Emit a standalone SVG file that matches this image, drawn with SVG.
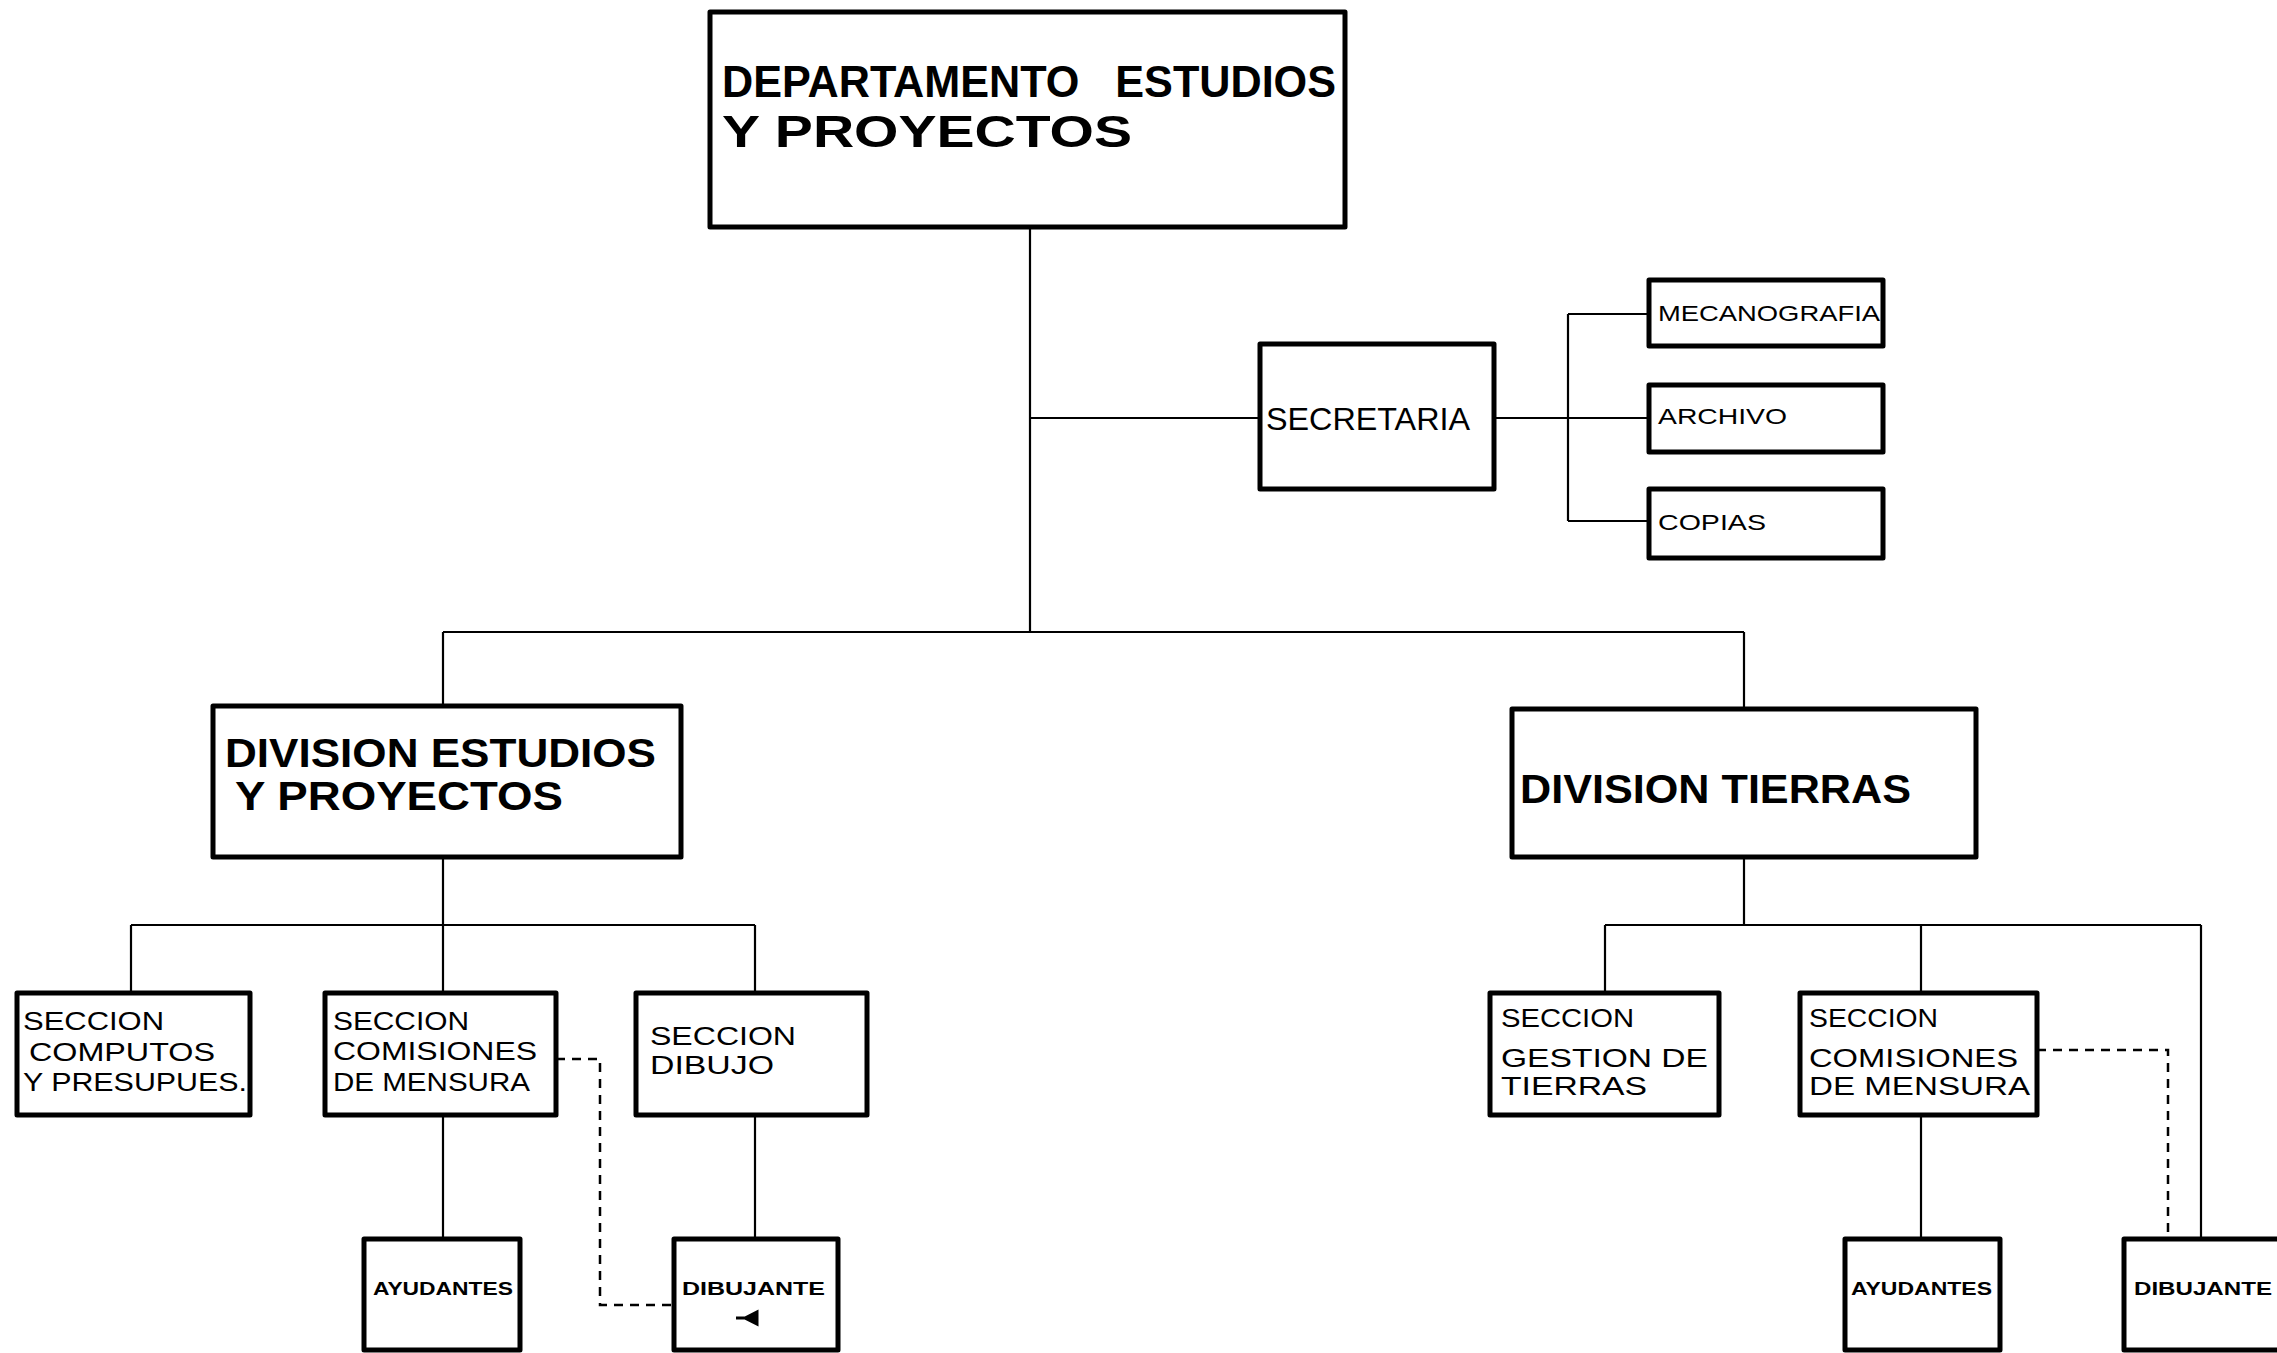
<svg xmlns="http://www.w3.org/2000/svg" width="2277" height="1353" viewBox="0 0 2277 1353">
<style>
.box{fill:#fff;stroke:#000;stroke-width:5;stroke-linejoin:round}
.ln{fill:none;stroke:#000;stroke-width:2.2}
.dash{fill:none;stroke:#000;stroke-width:2.5;stroke-dasharray:9 7}
text{font-family:"Liberation Sans","DejaVu Sans",Arial,sans-serif;fill:#000}
.t1{font-size:44px;font-weight:bold}
.t2{font-size:40px;font-weight:bold}
.t3{font-size:32px}
.t4{font-size:22px}
.t5{font-size:26px}
.t6{font-size:19px;font-weight:bold}
</style>
<rect width="2277" height="1353" fill="#fff"/>
<g id="connectors">
<path class="ln" d="M1030 227V632M1030 418H1260M1494 418H1649M1568 314V521M1568 314H1649M1568 521H1649"/>
<path class="ln" d="M443 632H1744M443 632V706M1744 632V709"/>
<path class="ln" d="M443 857V925M131 925H755M131 925V993M443 925V993M755 925V993"/>
<path class="ln" d="M443 1115V1239M755 1115V1239"/>
<path class="ln" d="M1744 857V925M1605 925H2201M1605 925V993M1921 925V993M2201 925V1239"/>
<path class="ln" d="M1921 1115V1239"/>
<path class="dash" d="M556 1059H600V1305H674"/>
<path class="dash" d="M2037 1050H2168V1239"/>
</g>
<g id="n-departamento">
<rect class="box" x="710" y="12" width="635" height="215"/>
<text class="t1" x="722" y="97" textLength="614" lengthAdjust="spacingAndGlyphs" xml:space="preserve">DEPARTAMENTO   ESTUDIOS</text>
<text class="t1" x="722" y="147" textLength="410" lengthAdjust="spacingAndGlyphs">Y PROYECTOS</text>
</g>
<g id="n-secretaria">
<rect class="box" x="1260" y="344" width="234" height="145"/>
<text class="t3" x="1266" y="430" textLength="204" lengthAdjust="spacingAndGlyphs">SECRETARIA</text>
</g>
<g id="n-mecanografia">
<rect class="box" x="1649" y="280" width="234" height="66"/>
<text class="t4" x="1658" y="321" textLength="222" lengthAdjust="spacingAndGlyphs">MECANOGRAFIA</text>
</g>
<g id="n-archivo">
<rect class="box" x="1649" y="385" width="234" height="67"/>
<text class="t4" x="1658" y="424" textLength="129" lengthAdjust="spacingAndGlyphs">ARCHIVO</text>
</g>
<g id="n-copias">
<rect class="box" x="1649" y="489" width="234" height="69"/>
<text class="t4" x="1658" y="530" textLength="108" lengthAdjust="spacingAndGlyphs">COPIAS</text>
</g>
<g id="n-div-estudios">
<rect class="box" x="213" y="706" width="468" height="151"/>
<text class="t2" x="225" y="767" textLength="431" lengthAdjust="spacingAndGlyphs">DIVISION ESTUDIOS</text>
<text class="t2" x="235" y="810" textLength="328" lengthAdjust="spacingAndGlyphs">Y PROYECTOS</text>
</g>
<g id="n-div-tierras">
<rect class="box" x="1512" y="709" width="464" height="148"/>
<text class="t2" x="1520" y="803" textLength="391" lengthAdjust="spacingAndGlyphs">DIVISION TIERRAS</text>
</g>
<g id="n-computos">
<rect class="box" x="17" y="993" width="233" height="122"/>
<text class="t5" x="23" y="1030" textLength="141" lengthAdjust="spacingAndGlyphs">SECCION</text>
<text class="t5" x="29" y="1061" textLength="186" lengthAdjust="spacingAndGlyphs">COMPUTOS</text>
<text class="t5" x="23" y="1091" textLength="224" lengthAdjust="spacingAndGlyphs">Y PRESUPUES.</text>
</g>
<g id="n-comisiones-1">
<rect class="box" x="325" y="993" width="231" height="122"/>
<text class="t5" x="333" y="1030" textLength="136" lengthAdjust="spacingAndGlyphs">SECCION</text>
<text class="t5" x="333" y="1060" textLength="204" lengthAdjust="spacingAndGlyphs">COMISIONES</text>
<text class="t5" x="333" y="1091" textLength="197" lengthAdjust="spacingAndGlyphs">DE MENSURA</text>
</g>
<g id="n-dibujo">
<rect class="box" x="636" y="993" width="231" height="122"/>
<text class="t5" x="650" y="1045" textLength="146" lengthAdjust="spacingAndGlyphs">SECCION</text>
<text class="t5" x="650" y="1074" textLength="124" lengthAdjust="spacingAndGlyphs">DIBUJO</text>
</g>
<g id="n-ayudantes-1">
<rect class="box" x="364" y="1239" width="156" height="111"/>
<text class="t6" x="373" y="1295" textLength="140" lengthAdjust="spacingAndGlyphs">AYUDANTES</text>
</g>
<g id="n-dibujante-1">
<rect class="box" x="674" y="1239" width="164" height="111"/>
<text class="t6" x="682" y="1295" textLength="143" lengthAdjust="spacingAndGlyphs">DIBUJANTE</text>
<path d="M736 1318H745M745 1318L757 1312V1324Z" fill="#000" stroke="#000" stroke-width="3"/>
</g>
<g id="n-gestion">
<rect class="box" x="1490" y="993" width="229" height="122"/>
<text class="t5" x="1501" y="1027" textLength="133" lengthAdjust="spacingAndGlyphs">SECCION</text>
<text class="t5" x="1501" y="1067" textLength="207" lengthAdjust="spacingAndGlyphs">GESTION DE</text>
<text class="t5" x="1501" y="1095" textLength="146" lengthAdjust="spacingAndGlyphs">TIERRAS</text>
</g>
<g id="n-comisiones-2">
<rect class="box" x="1800" y="993" width="237" height="122"/>
<text class="t5" x="1809" y="1027" textLength="129" lengthAdjust="spacingAndGlyphs">SECCION</text>
<text class="t5" x="1809" y="1067" textLength="209" lengthAdjust="spacingAndGlyphs">COMISIONES</text>
<text class="t5" x="1809" y="1095" textLength="221" lengthAdjust="spacingAndGlyphs">DE MENSURA</text>
</g>
<g id="n-ayudantes-2">
<rect class="box" x="1845" y="1239" width="155" height="111"/>
<text class="t6" x="1851" y="1295" textLength="141" lengthAdjust="spacingAndGlyphs">AYUDANTES</text>
</g>
<g id="n-dibujante-2">
<rect class="box" x="2124" y="1239" width="160" height="111"/>
<text class="t6" x="2134" y="1295" textLength="138" lengthAdjust="spacingAndGlyphs">DIBUJANTE</text>
</g>
</svg>
